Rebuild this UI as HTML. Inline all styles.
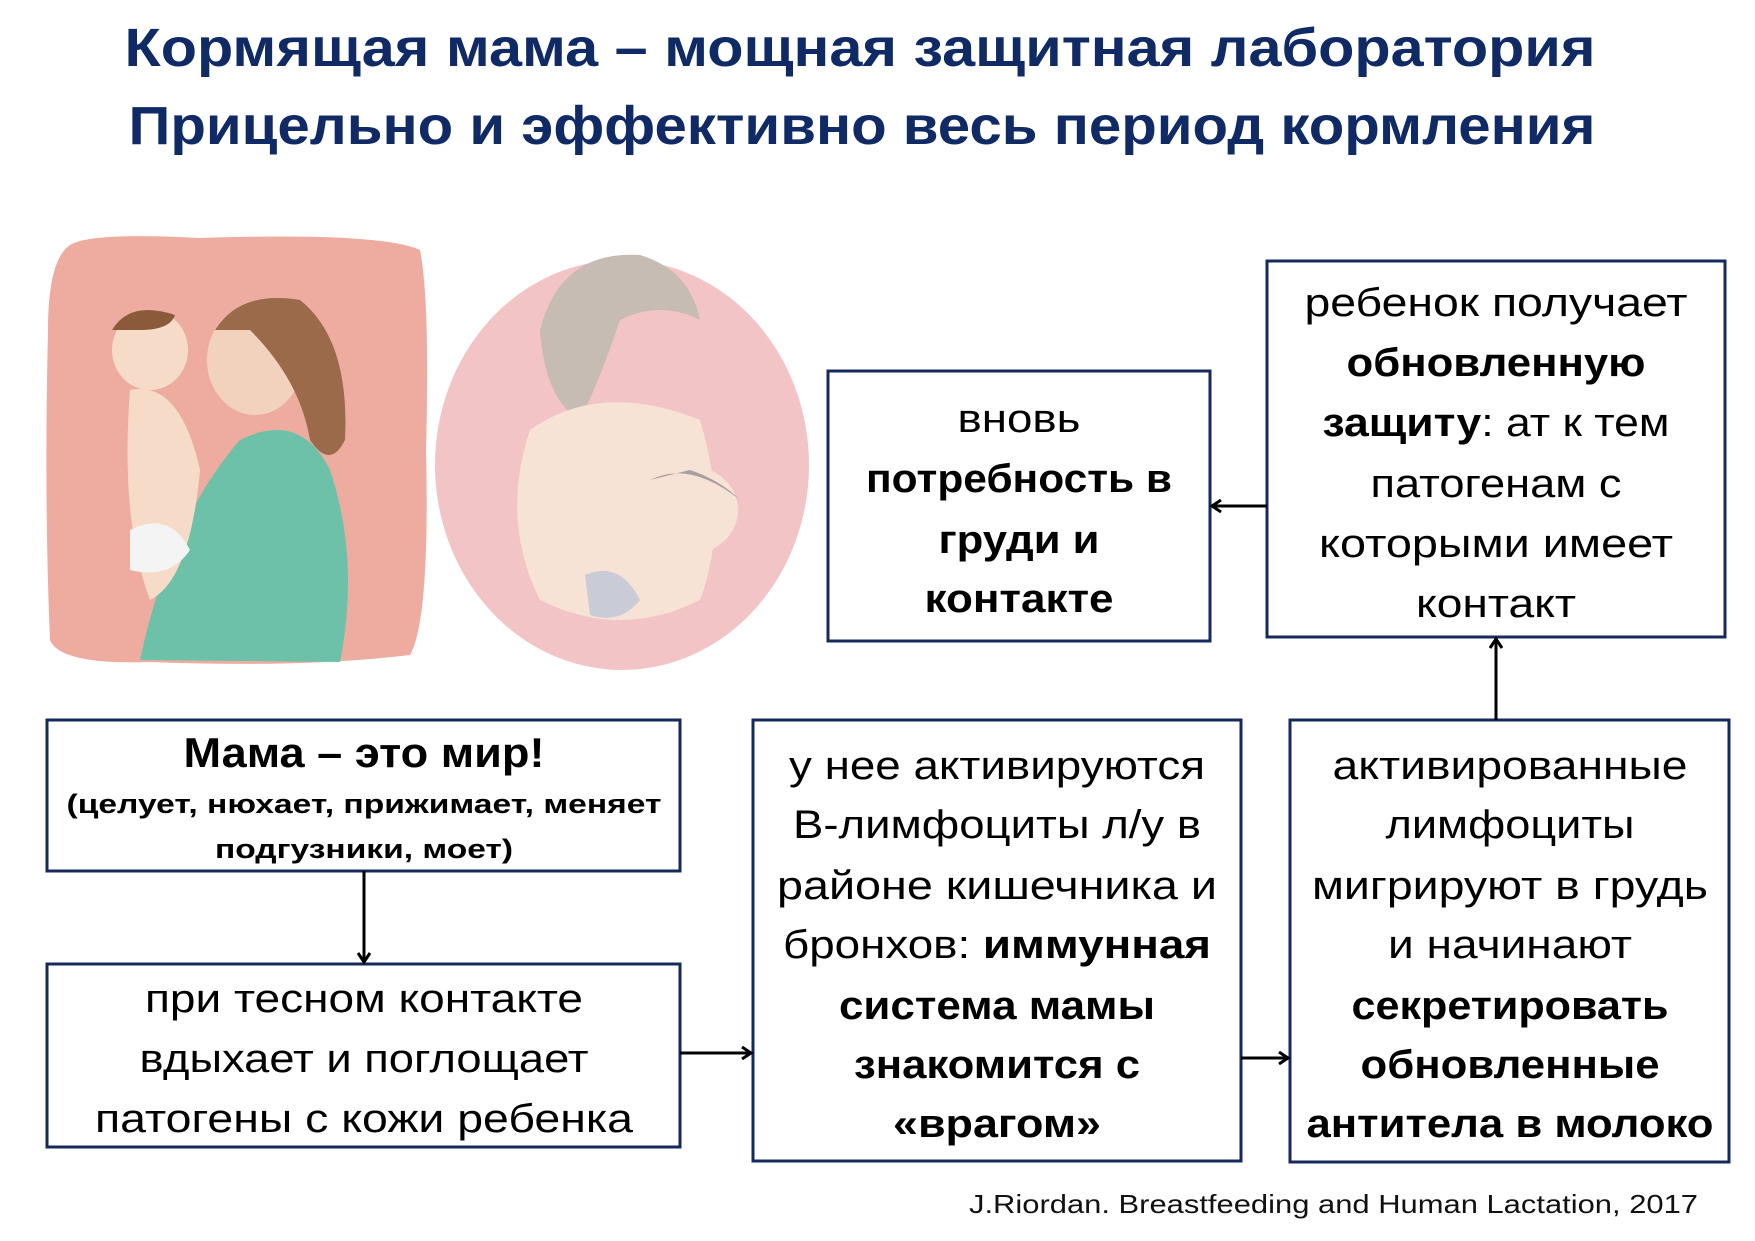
<!DOCTYPE html>
<html><head><meta charset="utf-8"><style>html,body{margin:0;padding:0;background:#fff}svg{display:block}</style></head>
<body>
<svg width="1755" height="1241" viewBox="0 0 1755 1241" xmlns="http://www.w3.org/2000/svg" font-family="'Liberation Sans', sans-serif">
<defs>
<marker id="ah" markerWidth="14" markerHeight="14" refX="11" refY="7" orient="auto" markerUnits="userSpaceOnUse">
<path d="M2,1 L11,7 L2,13" fill="none" stroke="#000" stroke-width="3"/>
</marker>
</defs>
<!-- title -->
<g fill="#102a66" font-weight="bold" font-size="54" text-anchor="middle">
<text x="860" y="66" textLength="1471" lengthAdjust="spacingAndGlyphs">Кормящая мама – мощная защитная лаборатория</text>
<text x="862" y="144" textLength="1467" lengthAdjust="spacingAndGlyphs">Прицельно и эффективно весь период кормления</text>
</g>
<!-- images -->
<path d="M70,245 Q90,232 200,238 Q380,232 420,250 Q430,300 426,450 Q430,620 410,655 Q300,668 150,662 Q60,665 50,640 Q44,500 48,330 Q48,260 70,245Z" fill="#eeaba0"/>
<path d="M140,660 Q170,520 240,440 Q300,410 330,470 Q360,560 340,662Z" fill="#6cc1a8"/>
<ellipse cx="150" cy="350" rx="38" ry="40" fill="#f6dcc8"/>
<path d="M112,330 Q130,300 175,315 Q170,330 140,330Z" fill="#8a5a3a"/>
<path d="M130,390 Q180,380 200,470 Q190,580 150,600 Q120,520 130,390Z" fill="#f6dcc8"/>
<path d="M130,530 Q170,510 190,550 Q170,580 130,570Z" fill="#f4f4f4"/>
<ellipse cx="255" cy="360" rx="48" ry="55" fill="#f2d2bc"/>
<path d="M215,330 Q240,290 300,300 Q350,340 345,440 Q330,470 310,440 Q300,380 250,330Z" fill="#9a6a4a"/>
<ellipse cx="622" cy="465" rx="187" ry="205" fill="#f3c4c6"/>
<path d="M540,330 Q560,250 640,255 Q690,270 700,320 Q660,300 620,320 Q600,380 580,420 Q545,400 540,330Z" fill="#c7bcb4"/>
<path d="M530,430 Q600,380 700,420 Q730,520 700,600 Q620,640 540,600 Q500,520 530,430Z" fill="#f6e3d6"/>
<ellipse cx="690" cy="510" rx="48" ry="44" fill="#f6e3d6"/>
<path d="M650,480 Q690,460 740,500 Q720,480 690,470Z" fill="#a8a0a0"/>
<path d="M585,575 Q620,560 640,600 Q620,625 590,615Z" fill="#c9ccd6"/>
<!-- boxes -->
<g fill="#fff" stroke="#15295c" stroke-width="3">
<rect x="47" y="720" width="633" height="151"/>
<rect x="47" y="964" width="633" height="183"/>
<rect x="753" y="720" width="488" height="441"/>
<rect x="1290" y="720" width="439" height="442"/>
<rect x="828" y="371" width="382" height="270"/>
<rect x="1267" y="261" width="458" height="376"/>
</g>
<!-- arrows -->
<g stroke="#000" stroke-width="3" fill="none" marker-end="url(#ah)">
<line x1="364" y1="871" x2="364" y2="962"/>
<line x1="680" y1="1053" x2="751" y2="1053"/>
<line x1="1241" y1="1058" x2="1288" y2="1058"/>
<line x1="1496" y1="720" x2="1496" y2="639"/>
<line x1="1267" y1="506" x2="1212" y2="506"/>
</g>
<!-- text -->
<g fill="#000" font-size="40" text-anchor="middle">
<!-- A -->
<text x="364" y="767" font-weight="bold" font-size="42" textLength="361" lengthAdjust="spacingAndGlyphs">Мама – это мир!</text>
<text x="364" y="813" font-weight="bold" font-size="27" textLength="595" lengthAdjust="spacingAndGlyphs">(целует, нюхает, прижимает, меняет</text>
<text x="364" y="858" font-weight="bold" font-size="27" textLength="298" lengthAdjust="spacingAndGlyphs">подгузники, моет)</text>
<!-- B -->
<text x="364" y="1012" textLength="438" lengthAdjust="spacingAndGlyphs">при тесном контакте</text>
<text x="364" y="1072" textLength="449" lengthAdjust="spacingAndGlyphs">вдыхает и поглощает</text>
<text x="364" y="1132" textLength="538" lengthAdjust="spacingAndGlyphs">патогены с кожи ребенка</text>
<!-- C -->
<text x="997" y="779" textLength="416" lengthAdjust="spacingAndGlyphs">у нее активируются</text>
<text x="997" y="838" textLength="408" lengthAdjust="spacingAndGlyphs">В-лимфоциты л/у в</text>
<text x="997" y="899" textLength="440" lengthAdjust="spacingAndGlyphs">районе кишечника и</text>
<text x="997" y="958" textLength="428" lengthAdjust="spacingAndGlyphs">бронхов: <tspan font-weight="bold">иммунная</tspan></text>
<text x="997" y="1019" font-weight="bold" textLength="316" lengthAdjust="spacingAndGlyphs">система мамы</text>
<text x="997" y="1078" font-weight="bold" textLength="286" lengthAdjust="spacingAndGlyphs">знакомится с</text>
<text x="997" y="1137" font-weight="bold" textLength="208" lengthAdjust="spacingAndGlyphs">«врагом»</text>
<!-- D -->
<text x="1510" y="779" textLength="355" lengthAdjust="spacingAndGlyphs">активированные</text>
<text x="1510" y="838" textLength="249" lengthAdjust="spacingAndGlyphs">лимфоциты</text>
<text x="1510" y="899" textLength="396" lengthAdjust="spacingAndGlyphs">мигрируют в грудь</text>
<text x="1510" y="958" textLength="244" lengthAdjust="spacingAndGlyphs">и начинают</text>
<text x="1510" y="1019" font-weight="bold" textLength="317" lengthAdjust="spacingAndGlyphs">секретировать</text>
<text x="1510" y="1078" font-weight="bold" textLength="299" lengthAdjust="spacingAndGlyphs">обновленные</text>
<text x="1510" y="1137" font-weight="bold" textLength="407" lengthAdjust="spacingAndGlyphs">антитела в молоко</text>
<!-- E -->
<text x="1019" y="432" textLength="123" lengthAdjust="spacingAndGlyphs">вновь</text>
<text x="1019" y="492" font-weight="bold" textLength="306" lengthAdjust="spacingAndGlyphs">потребность в</text>
<text x="1019" y="553" font-weight="bold" textLength="161" lengthAdjust="spacingAndGlyphs">груди и</text>
<text x="1019" y="612" font-weight="bold" textLength="189" lengthAdjust="spacingAndGlyphs">контакте</text>
<!-- F -->
<text x="1496" y="316" textLength="383" lengthAdjust="spacingAndGlyphs">ребенок получает</text>
<text x="1496" y="376" font-weight="bold" textLength="299" lengthAdjust="spacingAndGlyphs">обновленную</text>
<text x="1496" y="436" textLength="347" lengthAdjust="spacingAndGlyphs"><tspan font-weight="bold">защиту</tspan>: ат к тем</text>
<text x="1496" y="497" textLength="251" lengthAdjust="spacingAndGlyphs">патогенам с</text>
<text x="1496" y="557" textLength="354" lengthAdjust="spacingAndGlyphs">которыми имеет</text>
<text x="1496" y="617" textLength="160" lengthAdjust="spacingAndGlyphs">контакт</text>
</g>
<text x="969" y="1213" font-size="26" fill="#111" textLength="729" lengthAdjust="spacingAndGlyphs">J.Riordan. Breastfeeding and Human  Lactation, 2017</text>
</svg>
</body></html>
